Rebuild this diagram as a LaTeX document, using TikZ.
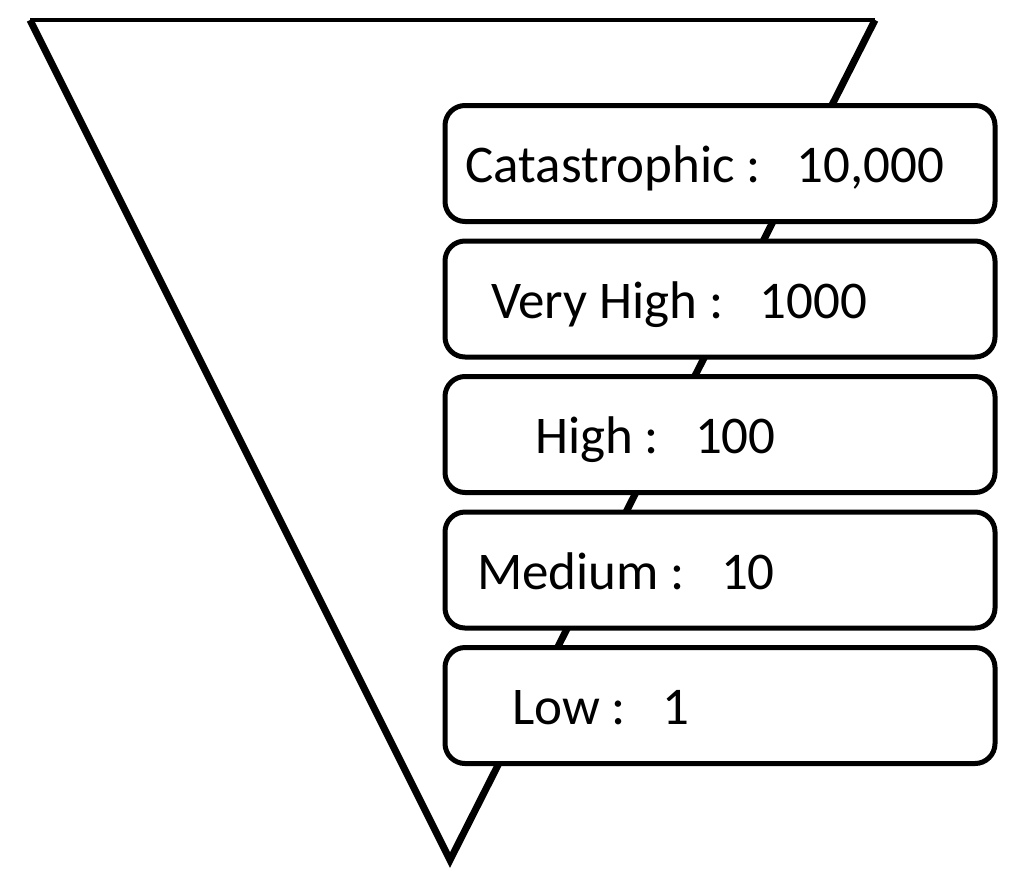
\documentclass[tikz,border=0pt]{standalone}
\usepackage{fontspec}
\setmainfont{Carlito}
\usetikzlibrary{calc}
\newcommand{\levelgap}{\spaceskip=12pt\relax}
\tikzset{
	funnel/.style={draw=black, line width=7pt, line join=miter},
	rim/.style={draw=black, line width=4pt},
	level/.style={rectangle, rounded corners=20pt, draw=black, fill=white, line width=5pt, anchor=north west, minimum width=550pt, minimum height=116pt, text width=538pt, inner xsep=6pt, inner ysep=0pt, align=left, text height=38pt, text depth=0pt, font=\fontsize{53}{60}\selectfont},
}

\begin{document}
\begin{tikzpicture}[x=1pt, y=-1pt]
	\useasboundingbox (0,0) rectangle (1024,884);
	% inverted triangle
	\coordinate (tl) at (30,20);
	\coordinate (tr) at (875,20);
	\coordinate (apex) at (450,860);
	\draw[funnel] (tl) -- (apex) -- (tr);
	\draw[rim] (tl) -- (tr);
	% severity levels
	\foreach \nm/\ind/\txt [count=\i from 0] in {cat/14.5/{Catastrophic :~~~10,000}, vhigh/40/{Very High :~~~1000}, high/84/{High :~~~100}, med/26/{Medium :~~~10}, low/61/{Low :~~~1}}{
		\node[level] (\nm) at (442.5,103+135.5*\i) {\levelgap\hspace*{\ind pt}\txt};
	}
\end{tikzpicture}
\end{document}
